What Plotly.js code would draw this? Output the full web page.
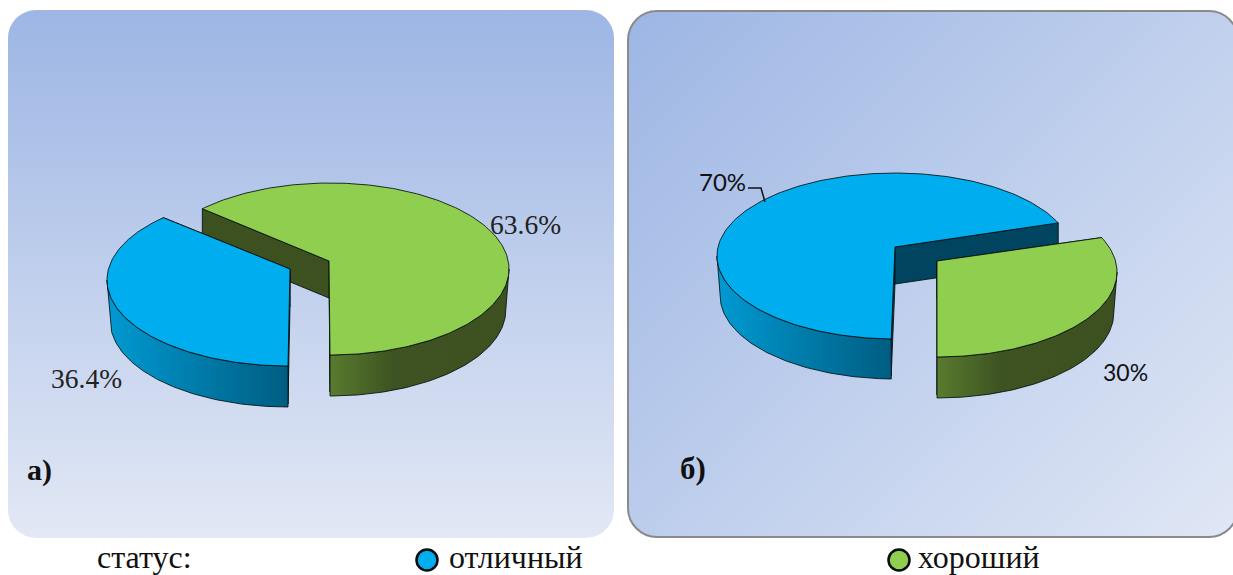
<!DOCTYPE html>
<html><head><meta charset="utf-8">
<script src="https://cdn.plot.ly/plotly-3.0.1.min.js"></script>
<style>
html,body{margin:0;padding:0;background:#fff;overflow:hidden;width:1233px;height:575px}
.panel{position:absolute;box-sizing:border-box}
#pa{left:8px;top:10px;width:606px;height:528px;border-radius:28px;background:linear-gradient(180deg,#9db6e4 0%,#e2e8f5 100%)}
#pb{left:627px;top:10px;width:612px;height:528px;border-radius:30px;border:2px solid #8a8a8a;background:linear-gradient(135deg,#9db6e4 0%,#e0e7f5 100%)}
#chart{position:absolute;left:0;top:0;width:1233px;height:575px}
</style></head><body>
<div class="panel" id="pa"></div><div class="panel" id="pb"></div>
<div id="chart"></div>
<script>
// ---- data ----
const statusLabel = 'статус:';
const categories = ['отличный', 'хороший'];
const sharesA = [36.4, 63.6];   // panel а)
const sharesB = [70, 30];       // panel б)
const labelsA = ['36.4%', '63.6%'];
const labelsB = ['70%', '30%'];
const panelNames = ['а)', 'б)'];

// ---- styling ----
const TOP = ['#00aeef', '#8fce4f'];
const INNER = ['#00445f', '#3d5120'];
const WALL = [
  [[0,'#009ad2'],[1,'#005d82']],
  [[0,'#587c2f'],[0.35,'#3e5321'],[1,'#3d5120']]
];
const EDGE = 'rgba(5,15,15,0.85)';
const TAPER = 0.982;  // the lower rim looks narrower in perspective

// perspective parameters of each drawn slice
const geomA = [
  {cx:288, cy:280, rx:181, ry:86, ax:290, ay:269, d:41, di:38, start:180, dir:1, warp:-5.5},
  {cx:330, cy:269, rx:179, ry:86, ax:329, ay:261, d:41, di:37, start:180, dir:-1, warp:-3.5}
];
const geomB = [
  {cx:895, cy:256, rx:178, ry:83, ax:895, ay:247, d:40, di:37, start:183, dir:1, warp:-17},
  {cx:937, cy:272, rx:180, ry:85, ax:937, ay:261, d:41, di:38, start:180, dir:-1, warp:-10}
];

const rad = Math.PI/180;
function pt(g,t){
  const w = t + g.warp*Math.sin(2*t*rad);
  return [g.cx + g.rx*Math.sin(w*rad), g.cy - g.ry*Math.cos(w*rad)];
}
function poly(pts, extra){
  return Object.assign({type:'scatter', mode:'lines', x:pts.map(p=>p[0]), y:pts.map(p=>p[1]),
    fill:'toself', line:{color:EDGE,width:1}, hoverinfo:'skip', showlegend:false}, extra);
}
function arc(g,t0,t1){
  const n = Math.max(2,Math.ceil(Math.abs(t1-t0)));
  const out=[]; for(let i=0;i<=n;i++) out.push(pt(g,t0+(t1-t0)*i/n));
  return out;
}
function slice(g,share,i){
  const t0=g.start, t1=g.start+g.dir*share*3.6;
  const traces=[];
  [t0,t1].forEach(t=>{
    const p=pt(g,t);
    const q=[[g.ax,g.ay],p,[p[0],p[1]+g.di],[g.ax,g.ay+g.di],[g.ax,g.ay]];
    traces.push(poly(q,{fillcolor:INNER[i]}));
  });
  const lo=Math.min(t0,t1), hi=Math.max(t0,t1);
  const a=Math.max(lo,90), b=Math.min(hi,270);
  if(b>a){
    const rim=arc(g,a,b);
    const low=rim.slice().reverse().map(p=>[g.cx+(p[0]-g.cx)*TAPER,p[1]+g.d]);
    const q=rim.concat(low,[rim[0]]);
    traces.push(poly(q,{fillcolor:WALL[i][0][1],fillgradient:{type:'horizontal',colorscale:WALL[i]}}));
  }
  const q=[[g.ax,g.ay]].concat(arc(g,t0,t1),[[g.ax,g.ay]]);
  traces.push(poly(q,{fillcolor:TOP[i]}));
  return traces;
}

const data=[];
data.push(...slice(geomA[1],sharesA[1],1));
data.push(...slice(geomA[0],sharesA[0],0));
data.push(...slice(geomB[0],sharesB[0],0));
data.push(...slice(geomB[1],sharesB[1],1));

// leader line of the 70% label
data.push({type:'scatter',mode:'lines',x:[748,761,765],y:[188,188,202],
  line:{color:'#111',width:1.5},hoverinfo:'skip',showlegend:false});

// legend markers
data.push({type:'scatter',mode:'markers',x:[427,899],y:[560,560],
  marker:{size:21,color:TOP,line:{color:'#0a0a0a',width:2.5}},hoverinfo:'skip',showlegend:false});

const serif='"Liberation Serif", serif', sans='Lato, "Open Sans", sans-serif';
function note(text,x,y,size,family,color){
  return {text,x,y,xref:'x',yref:'y',showarrow:false,xanchor:'left',yanchor:'middle',borderpad:0,
    font:{size,family,color:color||'#222'}};
}
const annotations=[
  note(labelsA[1],489,224,27.5,serif),
  note(labelsA[0],50,378,27.5,serif),
  note(labelsB[0],698,181,24,sans,'#111'),
  note(labelsB[1],1102,372,23,sans,'#111'),
  note('<b>'+panelNames[0]+'</b>',26,470,30,serif,'#111'),
  note('<b>'+panelNames[1]+'</b>',679,468,31,serif,'#111'),
  note(statusLabel,96,557,32,serif,'#111'),
  note(categories[0],448,557,32,serif,'#111'),
  note(categories[1],917,557,32,serif,'#111')
];

const axis={visible:false,fixedrange:true};
Plotly.newPlot('chart',data,{
  width:1233,height:575,margin:{l:0,r:0,t:0,b:0},
  paper_bgcolor:'rgba(0,0,0,0)',plot_bgcolor:'rgba(0,0,0,0)',
  xaxis:Object.assign({range:[0,1233]},axis),
  yaxis:Object.assign({range:[575,0]},axis),
  showlegend:false,annotations
},{displayModeBar:false,staticPlot:true});
</script>
</body></html>
